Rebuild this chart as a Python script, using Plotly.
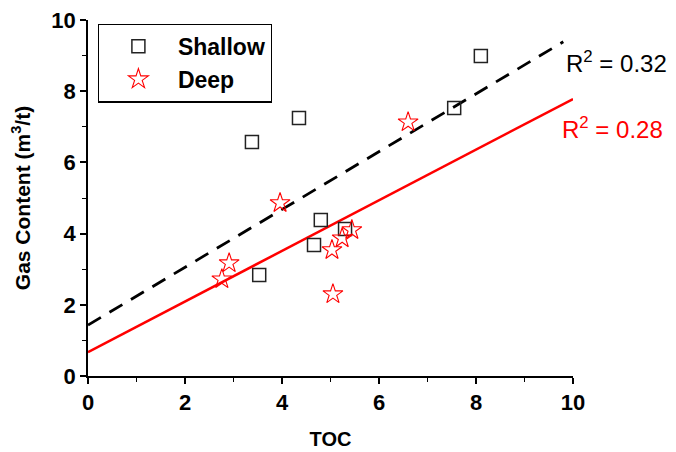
import plotly.graph_objects as go

shallow_toc = [3.38, 4.35, 3.53, 4.66, 4.80, 5.30, 7.55, 8.10]
shallow_gas = [6.57, 7.25, 2.84, 3.68, 4.38, 4.13, 7.53, 8.99]
deep_toc = [2.76, 2.91, 3.96, 5.03, 5.05, 5.24, 5.44, 6.60]
deep_gas = [2.72, 3.17, 4.86, 3.54, 2.30, 3.87, 4.10, 7.13]

# linear fits: [intercept, slope], drawn over x range
shallow_fit = [1.43, 0.812]
shallow_fit_x = [0, 9.8]
deep_fit = [0.67, 0.711]
deep_fit_x = [0, 10]

tick_vals = [0, 2, 4, 6, 8, 10]
tick_text = ["<b>0</b>", "<b>2</b>", "<b>4</b>", "<b>6</b>", "<b>8</b>", "<b>10</b>"]

font = "Liberation Sans, Arial, sans-serif"

fig = go.Figure()
fig.add_trace(go.Scatter(
    x=shallow_fit_x, y=[shallow_fit[0] + shallow_fit[1] * v for v in shallow_fit_x],
    mode="lines", line=dict(color="black", width=2.8, dash="15px,10px"),
    showlegend=False, hoverinfo="skip"))
fig.add_trace(go.Scatter(
    x=deep_fit_x, y=[deep_fit[0] + deep_fit[1] * v for v in deep_fit_x],
    mode="lines", line=dict(color="red", width=2.5),
    showlegend=False, hoverinfo="skip"))
fig.add_trace(go.Scatter(
    x=shallow_toc, y=shallow_gas, mode="markers", name="Shallow",
    marker=dict(symbol="square-open", size=13, color="#222", line=dict(width=1.5))))
fig.add_trace(go.Scatter(
    x=deep_toc, y=deep_gas, mode="markers", name="Deep",
    marker=dict(symbol="star-open", size=15, color="red", line=dict(width=1.1))))

axis_common = dict(
    showline=True, linecolor="black", linewidth=1.5, mirror=False,
    ticks="outside", ticklen=6, tickwidth=1.5, tickcolor="black",
    showgrid=False, zeroline=False, automargin=False, ticklabeloverflow="allow",
    tickfont=dict(family=font, size=22, color="black", weight="bold"),
    tickmode="array", tickvals=tick_vals, ticktext=tick_text,
    minor=dict(ticks="outside", ticklen=4, tickwidth=1.2, tickcolor="black", dtick=1, tick0=0, showgrid=False),
)

fig.update_xaxes(range=[0, 10], title=dict(text="<b>TOC</b>", font=dict(family=font, size=20, color="black"), standoff=18), **axis_common)
fig.update_yaxes(range=[0, 10], title=dict(text="<b>Gas Content (m<sup>3</sup>/t)</b>", font=dict(family=font, size=21, color="black"), standoff=18), **axis_common)

fig.add_annotation(x=1.0, y=0.882, xref="paper", yref="paper", xanchor="left", yanchor="middle",
                   text="R<sup>2</sup> = 0.32", showarrow=False, xshift=-9,
                   font=dict(family=font, size=24, color="black"))
fig.add_annotation(x=1.0, y=0.697, xref="paper", yref="paper", xanchor="left", yanchor="middle",
                   text="R<sup>2</sup> = 0.28", showarrow=False, xshift=-13,
                   font=dict(family=font, size=24, color="red"))

# the page body adds an 8px offset, so the figure is 8px smaller with trimmed left/top margins
fig.update_layout(
    width=668, height=444,
    margin=dict(l=80, r=103, t=12, b=76),
    plot_bgcolor="white", paper_bgcolor="white",
    legend=dict(x=0.02, y=0.99, xanchor="left", yanchor="top",
                bordercolor="black", borderwidth=1.2, bgcolor="white",
                font=dict(family=font, size=23, color="black", weight="bold"),
                itemwidth=69, tracegroupgap=0),
)

fig.write_html("out.html")
